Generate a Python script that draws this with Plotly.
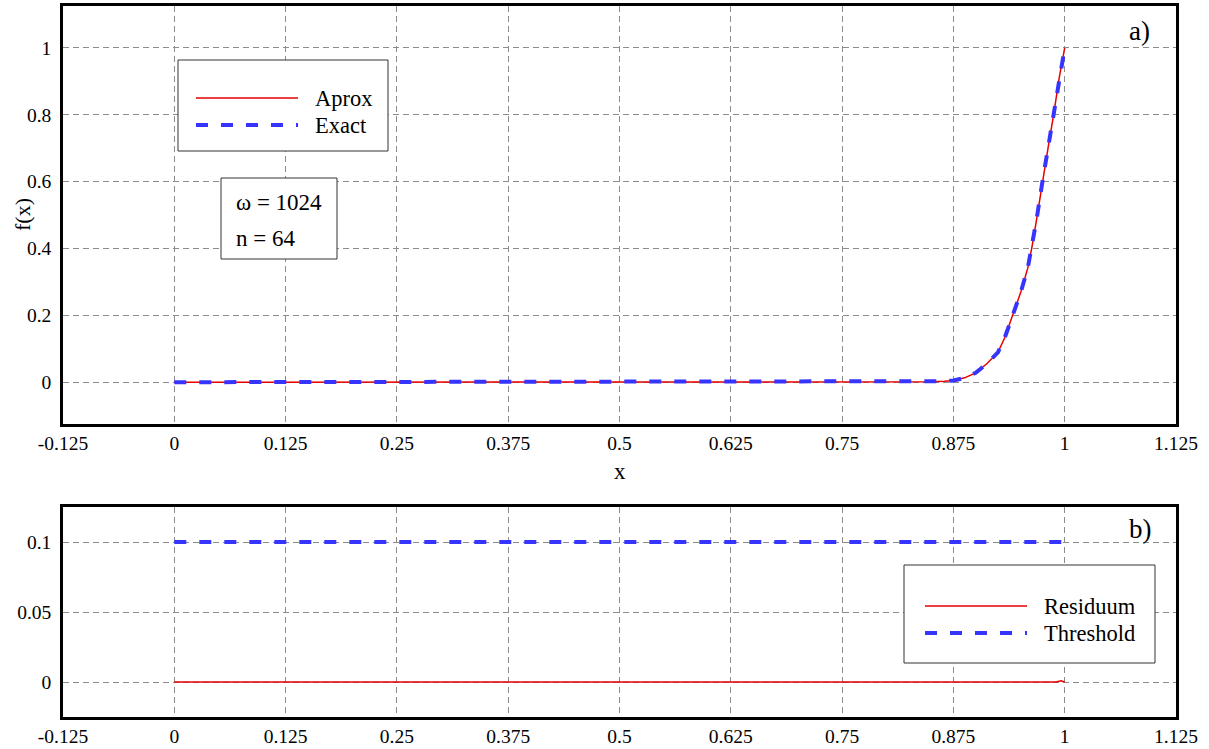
import plotly.graph_objects as go

# ---------------- data ----------------
x_curve = [0, 0.125, 0.25, 0.375, 0.5, 0.625, 0.75, 0.8125, 0.85, 0.865, 0.875,
           0.8875, 0.9, 0.9125, 0.925, 0.9325, 0.9415, 0.951, 0.9585, 0.963,
           0.9685, 0.975, 0.9815, 0.9875, 0.994, 1.0]
f_aprox = [0, 0, 0, 0, 0, 0, 0, 0, 0.001, 0.003, 0.005,
           0.013, 0.028, 0.055, 0.089, 0.132, 0.199, 0.272, 0.341, 0.401,
           0.488, 0.600, 0.704, 0.799, 0.913, 1.0]
f_exact = [0, 0, 0, 0, 0, 0, 0, 0, 0.001, 0.003, 0.005,
           0.013, 0.028, 0.055, 0.089, 0.132, 0.199, 0.272, 0.341, 0.401,
           0.488, 0.600, 0.704, 0.799, 0.913, 1.0]

x_res = [0, 0.125, 0.25, 0.375, 0.5, 0.625, 0.75, 0.875, 0.99, 0.996, 1.0]
residuum = [0, 0, 0, 0, 0, 0, 0, 0, 0, 0.0008, 0]
x_thr = [0, 1.0]
threshold = [0.1, 0.1]

x_ticks = [-0.125, 0, 0.125, 0.25, 0.375, 0.5, 0.625, 0.75, 0.875, 1, 1.125]
x_ticktext = ["-0.125", "0", "0.125", "0.25", "0.375", "0.5", "0.625", "0.75", "0.875", "1", "1.125"]
y1_ticks = [0, 0.2, 0.4, 0.6, 0.8, 1]
y1_ticktext = ["0", "0.2", "0.4", "0.6", "0.8", "1"]
y2_ticks = [0, 0.05, 0.1]
y2_ticktext = ["0", "0.05", "0.1"]

legend1_names = ["Aprox", "Exact"]
legend2_names = ["Residuum", "Threshold"]
params_text = ["ω = 1024", "n = 64"]

# ---------------- styling ----------------
W, H = 1209, 749
FONT = "Liberation Serif"
RED = "#e60000"
BLUE = "#3535ff"
DASH = "12px,13px"
GRID = "#8c8c8c"


def px(x):
    return x / W


def py(y):
    return 1 - y / H


fig = go.Figure()
fig.add_trace(go.Scatter(x=x_curve, y=f_aprox, mode="lines", line=dict(color=RED, width=1.5),
                         xaxis="x", yaxis="y", showlegend=False, name=legend1_names[0]))
fig.add_trace(go.Scatter(x=x_curve, y=f_exact, mode="lines", line=dict(color=BLUE, width=4, dash=DASH),
                         xaxis="x", yaxis="y", showlegend=False, name=legend1_names[1]))
fig.add_trace(go.Scatter(x=x_res, y=residuum, mode="lines", line=dict(color=RED, width=1.5),
                         xaxis="x2", yaxis="y2", showlegend=False, name=legend2_names[0]))
fig.add_trace(go.Scatter(x=x_thr, y=threshold, mode="lines", line=dict(color=BLUE, width=4, dash=DASH),
                         xaxis="x2", yaxis="y2", showlegend=False, name=legend2_names[1]))

xdom = [px(63), px(1176)]
axis_common = dict(showline=True, mirror=True, linecolor="black", linewidth=2.5,
                   showgrid=True, gridcolor=GRID, gridwidth=1, griddash="6px,4px",
                   zeroline=False, ticks="", tickfont=dict(family=FONT, size=19.5, color="black"),
                   automargin=False)

fig.update_layout(
    width=W, height=H,
    margin=dict(l=0, r=0, t=0, b=0),
    paper_bgcolor="white", plot_bgcolor="white",
    font=dict(family=FONT, color="black"),
    showlegend=False,
    xaxis=dict(domain=xdom, range=[-0.125, 1.125], tickvals=x_ticks, ticktext=x_ticktext,
               anchor="y", ticklabelstandoff=0, **axis_common),
    yaxis=dict(domain=[py(424), py(6)], range=[-0.125, 1.125], tickvals=y1_ticks, ticktext=y1_ticktext,
               anchor="x", ticklabelstandoff=5, **axis_common),
    xaxis2=dict(domain=xdom, range=[-0.125, 1.125], tickvals=x_ticks, ticktext=x_ticktext,
                anchor="y2", ticklabelstandoff=0, **axis_common),
    yaxis2=dict(domain=[py(717), py(507)], range=[-0.025, 0.125], tickvals=y2_ticks, ticktext=y2_ticktext,
                anchor="x2", ticklabelstandoff=5, **axis_common),
)

shapes = []
annotations = []

# legend box (top)
shapes.append(dict(type="rect", xref="paper", yref="paper", x0=px(178), x1=px(388), y0=py(151), y1=py(60),
                   line=dict(color="#333333", width=1), fillcolor="white", layer="above"))
shapes.append(dict(type="line", xref="paper", yref="paper", x0=px(196), x1=px(298), y0=py(98), y1=py(98),
                   line=dict(color=RED, width=1.5), layer="above"))
shapes.append(dict(type="line", xref="paper", yref="paper", x0=px(196), x1=px(298), y0=py(125), y1=py(125),
                   line=dict(color=BLUE, width=4, dash=DASH), layer="above"))
for name, yy in zip(legend1_names, [98, 125]):
    annotations.append(dict(text=name, xref="paper", yref="paper", x=px(313), y=py(yy),
                            xanchor="left", yanchor="middle", showarrow=False,
                            font=dict(family=FONT, size=22.5, color="black")))

# parameter box
shapes.append(dict(type="rect", xref="paper", yref="paper", x0=px(221), x1=px(337), y0=py(259), y1=py(178),
                   line=dict(color="#333333", width=1), fillcolor="white", layer="above"))
for t, yy in zip(params_text, [202, 238]):
    annotations.append(dict(text=t, xref="paper", yref="paper", x=px(234), y=py(yy),
                            xanchor="left", yanchor="middle", showarrow=False,
                            font=dict(family=FONT, size=23, color="black")))

# legend box (bottom)
shapes.append(dict(type="rect", xref="paper", yref="paper", x0=px(904), x1=px(1155), y0=py(663), y1=py(565),
                   line=dict(color="#333333", width=1), fillcolor="white", layer="above"))
shapes.append(dict(type="line", xref="paper", yref="paper", x0=px(925), x1=px(1027), y0=py(606), y1=py(606),
                   line=dict(color=RED, width=1.5), layer="above"))
shapes.append(dict(type="line", xref="paper", yref="paper", x0=px(925), x1=px(1027), y0=py(633), y1=py(633),
                   line=dict(color=BLUE, width=4, dash=DASH), layer="above"))
for name, yy in zip(legend2_names, [606, 633]):
    annotations.append(dict(text=name, xref="paper", yref="paper", x=px(1042), y=py(yy),
                            xanchor="left", yanchor="middle", showarrow=False,
                            font=dict(family=FONT, size=22.5, color="black")))

# panel labels
annotations.append(dict(text="a)", xref="paper", yref="paper", x=px(1139), y=py(31),
                        xanchor="center", yanchor="middle", showarrow=False,
                        font=dict(family=FONT, size=27, color="black")))
annotations.append(dict(text="b)", xref="paper", yref="paper", x=px(1140), y=py(529),
                        xanchor="center", yanchor="middle", showarrow=False,
                        font=dict(family=FONT, size=27, color="black")))

# axis titles
annotations.append(dict(text="x", xref="paper", yref="paper", x=px(620), y=py(471),
                        xanchor="center", yanchor="middle", showarrow=False,
                        font=dict(family=FONT, size=23, color="black")))
annotations.append(dict(text="f(x)", xref="paper", yref="paper", x=px(22), y=py(215),
                        xanchor="center", yanchor="middle", showarrow=False, textangle=-90,
                        font=dict(family=FONT, size=22, color="black")))

fig.update_layout(shapes=shapes, annotations=annotations)
fig.write_html("out.html", config={"displayModeBar": False},
               post_script="document.body.style.margin='0px';")
